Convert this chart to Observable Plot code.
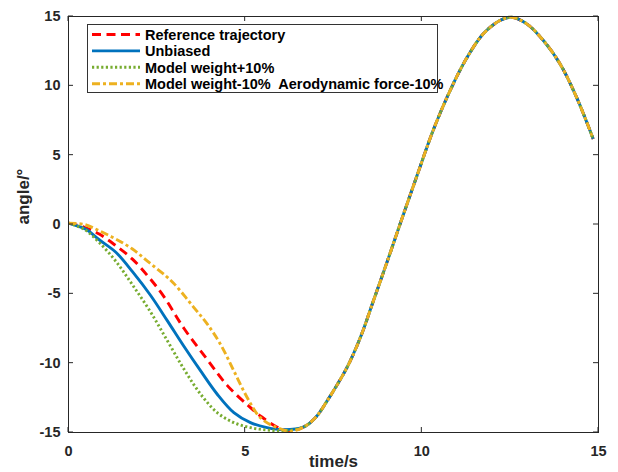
<!DOCTYPE html>
<html>
<head>
<meta charset="utf-8">
<script src="https://cdn.jsdelivr.net/npm/d3@7"></script>
<script src="https://cdn.jsdelivr.net/npm/@observablehq/plot@0.6"></script>
<style>
  html, body { margin: 0; padding: 0; background: #fff; }
  #chart { width: 618px; height: 472px; }
</style>
</head>
<body>
<div id="chart"></div>
<script>
// ---------- data ----------
const xTicks = [0, 5, 10, 15];
const yTicks = [-15, -10, -5, 0, 5, 10, 15];
const xLabel = "time/s";
const yLabel = "angle/°";

const seriesNames = [
  "Reference trajectory",
  "Unbiased",
  "Model weight+10%",
  "Model weight-10%  Aerodynamic force-10%"
];

// early (diverging) part of each series
const refT = [0, 0.45, 0.87, 1.34, 1.81, 2.28, 2.7, 3.27, 3.93, 4.49, 5.06, 5.43, 5.9, 6.3];
const refA = [0.1, -0.2, -0.69, -1.53, -2.5, -3.82, -5.2, -7.5, -9.75, -11.6, -13.0, -13.8, -14.6, -14.88];

const unbT = [0, 0.49, 0.87, 1.34, 1.81, 2.32, 2.8, 3.27, 3.74, 4.21, 4.68, 5.15, 5.62, 6.09];
const unbA = [0.1, -0.35, -1.1, -2.0, -3.4, -5.1, -6.95, -8.8, -10.56, -12.24, -13.57, -14.29, -14.65, -14.8];

const wPlusT = [0, 0.45, 0.87, 1.34, 1.81, 2.32, 2.8, 3.27, 3.74, 4.21, 4.68, 5.15, 5.62, 6.1];
const wPlusA = [0.1, -0.35, -1.3, -2.65, -4.35, -6.3, -8.39, -10.44, -12.24, -13.57, -14.29, -14.65, -14.82, -14.88];

const wMinusT = [0, 0.45, 0.87, 1.34, 1.81, 2.28, 2.75, 3.0, 3.55, 3.93, 4.3, 4.68, 5.06, 5.43, 5.9, 6.3];
const wMinusA = [0.1, 0, -0.45, -1.05, -1.77, -2.74, -3.7, -4.3, -5.99, -7.19, -8.63, -10.56, -12.49, -13.93, -14.65, -14.9];

// shared later part (all curves coincide)
const tailT = [6.66, 7.0, 7.32, 7.88, 8.26, 8.63, 9.01, 9.38, 9.86, 10.33, 10.8, 11.27, 11.74, 12.21, 12.54, 12.97, 13.44, 13.91, 14.38, 14.85];
const tailA = [-14.6, -13.9, -12.72, -10.32, -8.15, -5.5, -2.75, 0, 3.5, 6.85, 9.66, 12.0, 13.75, 14.71, 14.95, 14.47, 13.27, 11.59, 9.17, 6.17];

// ---------- build rows ----------
const heads = [[refT, refA], [unbT, unbA], [wPlusT, wPlusA], [wMinusT, wMinusA]];
const rows = [];
heads.forEach(([T, A], i) => {
  T.forEach((t, j) => rows.push({s: seriesNames[i], t, a: A[j]}));
  tailT.forEach((t, j) => rows.push({s: seriesNames[i], t, a: tailA[j]}));
});

// ---------- styles ----------
const styles = {
  "Reference trajectory": {stroke: "#FF0000", dash: "9,5.5"},
  "Unbiased": {stroke: "#0072BD", dash: null},
  "Model weight+10%": {stroke: "#77AC30", dash: "2.2,2.4"},
  "Model weight-10%  Aerodynamic force-10%": {stroke: "#EDB120", dash: "8,3,3,3"}
};
const lw = 2.9;
const ink = "#262626";
const font = "'Liberation Sans', Arial, Helvetica, sans-serif";
const fmt = d => String(d); // plain hyphen-minus like the reference

const lineMarks = seriesNames.map(name => Plot.line(rows, {
  filter: d => d.s === name,
  x: "t", y: "a",
  stroke: styles[name].stroke,
  strokeWidth: lw,
  strokeDasharray: styles[name].dash,
  strokeLinecap: "butt",
  curve: "catmull-rom"
}));

const plot = Plot.plot({
  width: 618,
  height: 472,
  marginLeft: 68,
  marginRight: 20,
  marginTop: 16,
  marginBottom: 40,
  style: {fontFamily: font, fontWeight: "bold", color: ink, background: "#fff"},
  x: {domain: [0, 15]},
  y: {domain: [-15, 15]},
  marks: [
    ...lineMarks,
    Plot.frame({stroke: ink, strokeWidth: 1}),
    Plot.axisX(xTicks, {tickSize: 0, tickPadding: 13, fontSize: 14.5, label: null, fill: ink, tickFormat: fmt}),
    Plot.axisY(yTicks, {tickSize: 0, tickPadding: 8, fontSize: 14.5, label: null, fill: ink, tickFormat: fmt}),
    Plot.text([xLabel], {frameAnchor: "bottom", text: d => d, dy: 34.5, fontSize: 17, fontWeight: "bold", fill: ink}),
    Plot.text([yLabel], {frameAnchor: "left", text: d => d, dx: -45, rotate: -90, fontSize: 17, fontWeight: "bold", fill: ink})
  ]
});

document.getElementById("chart").appendChild(plot);

// ---------- inward ticks on all four sides ----------
const xs = plot.scale("x"), ys = plot.scale("y");
const svg = d3.select(plot);
const x0 = xs.apply(0), x1 = xs.apply(15), y0 = ys.apply(-15), y1 = ys.apply(15);
const tl = 5;
const tg = svg.append("g").attr("stroke", ink).attr("stroke-width", 1);
xTicks.forEach(v => {
  const px = xs.apply(v);
  tg.append("line").attr("x1", px).attr("x2", px).attr("y1", y0).attr("y2", y0 - tl);
  tg.append("line").attr("x1", px).attr("x2", px).attr("y1", y1).attr("y2", y1 + tl);
});
yTicks.forEach(v => {
  const py = ys.apply(v);
  tg.append("line").attr("y1", py).attr("y2", py).attr("x1", x0).attr("x2", x0 + tl);
  tg.append("line").attr("y1", py).attr("y2", py).attr("x1", x1).attr("x2", x1 - tl);
});

// ---------- legend (inside the axes, top-left) ----------
const lg = svg.append("g").attr("text-anchor", "start");
lg.append("rect")
  .attr("x", 87.5).attr("y", 24.5).attr("width", 350).attr("height", 68)
  .attr("fill", "#fff").attr("stroke", "#333").attr("stroke-width", 1);
seriesNames.forEach((name, i) => {
  const cy = 34.5 + i * 16.4;
  lg.append("line")
    .attr("x1", 92).attr("x2", 140).attr("y1", cy).attr("y2", cy)
    .attr("stroke", styles[name].stroke).attr("stroke-width", lw)
    .attr("stroke-dasharray", styles[name].dash);
  lg.append("text")
    .attr("x", 145).attr("y", cy).attr("dy", "0.36em")
    .attr("text-anchor", "start")
    .attr("font-family", font).attr("font-weight", "bold").attr("font-size", 14.5)
    .attr("fill", "#000")
    .style("white-space", "pre")
    .text(name);
});
</script>
</body>
</html>
